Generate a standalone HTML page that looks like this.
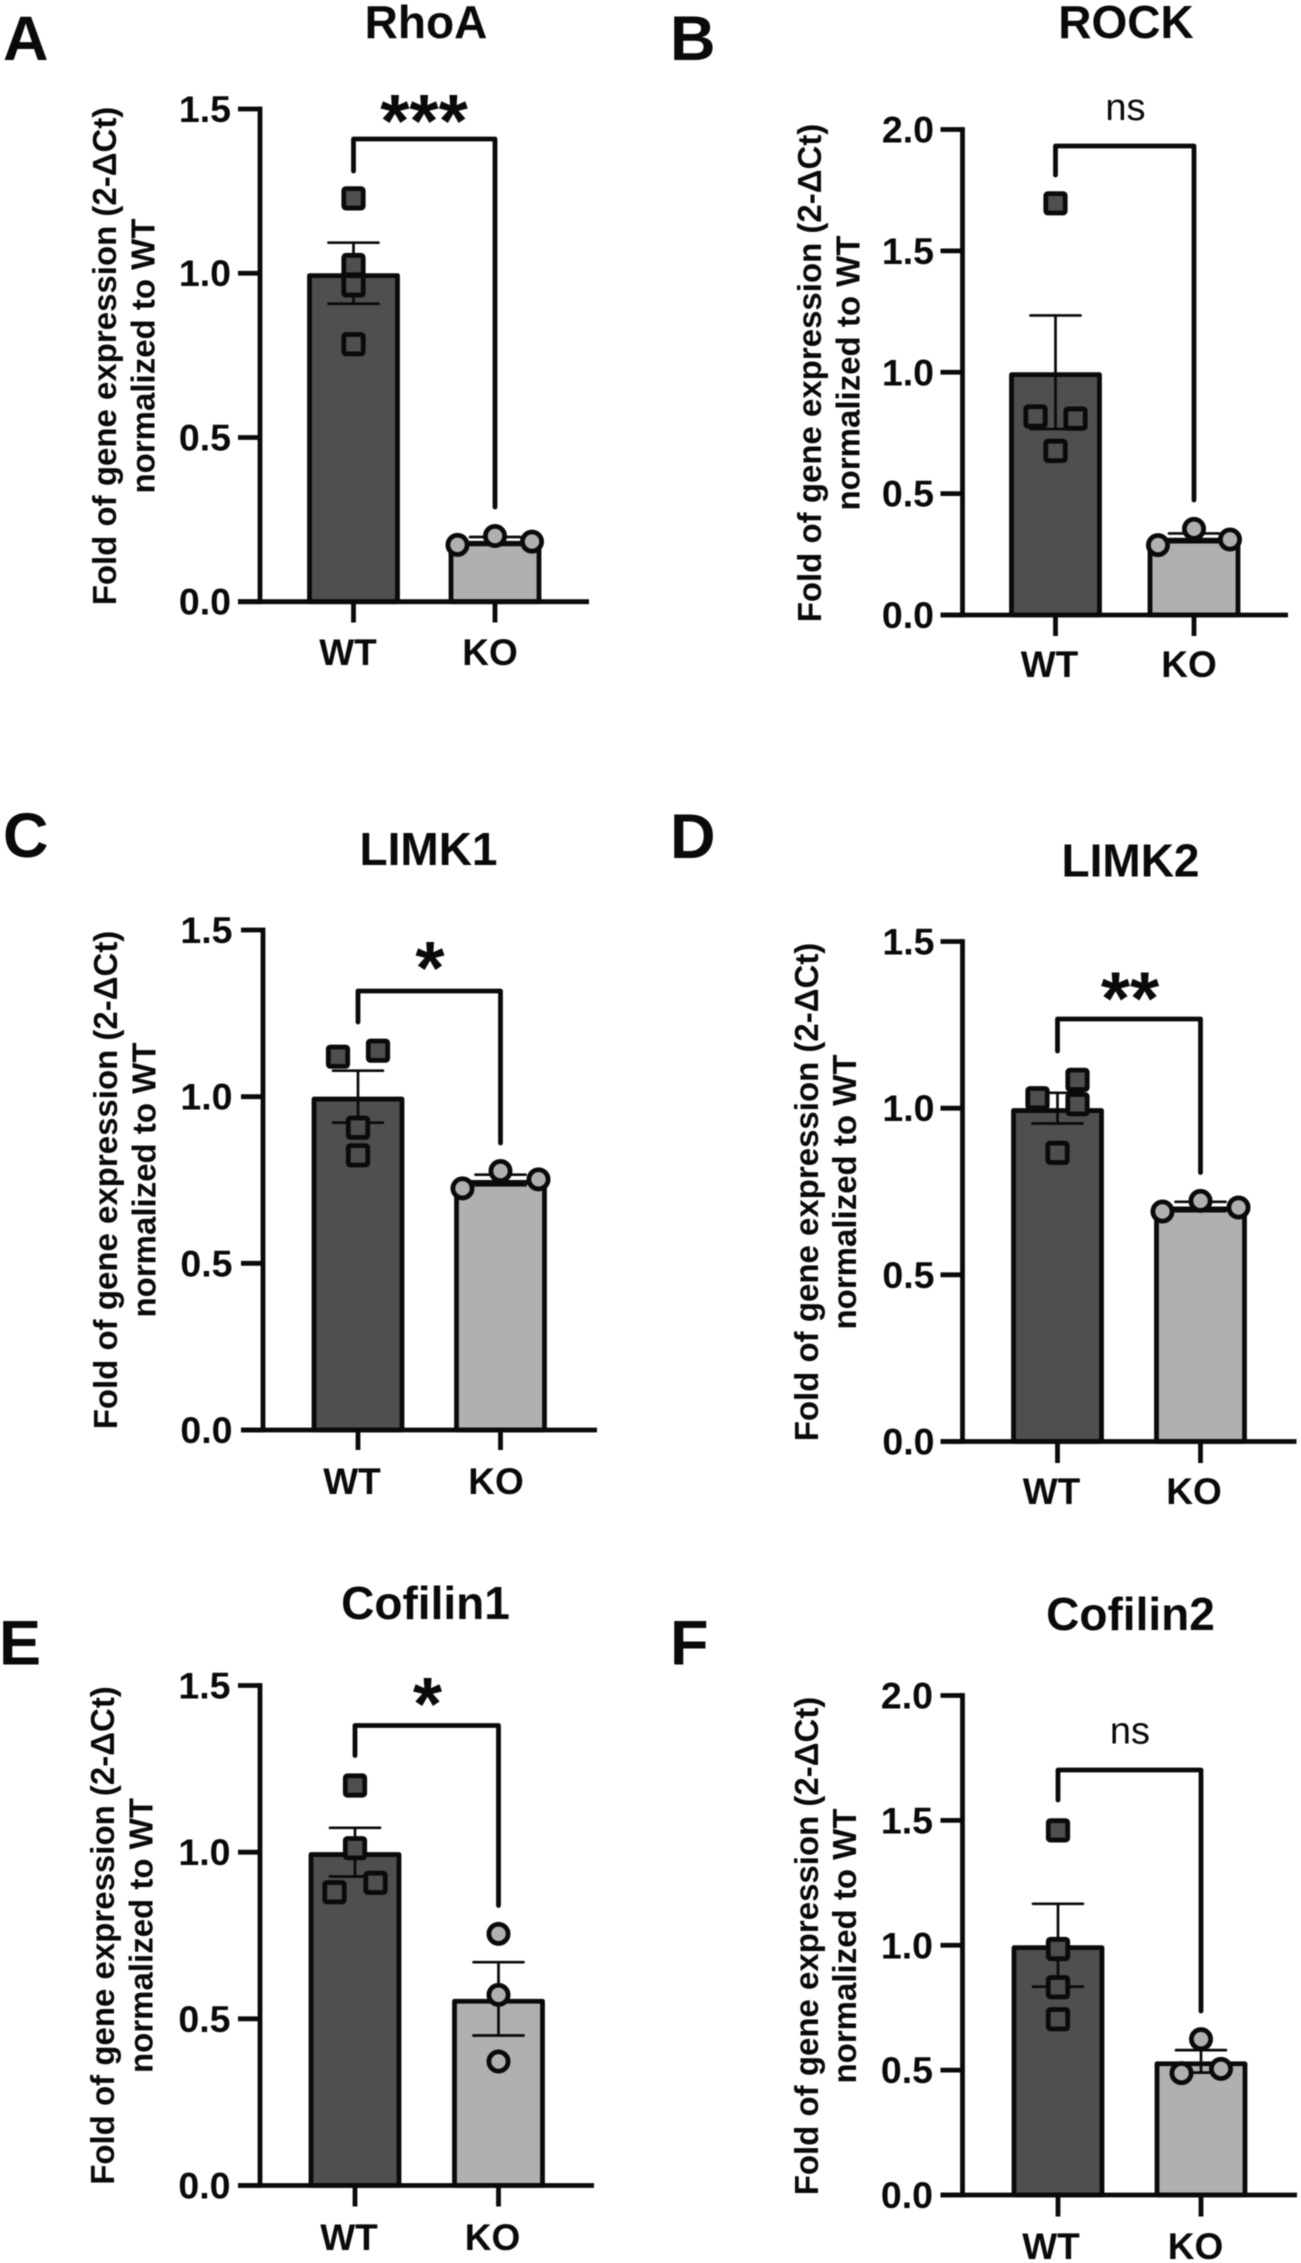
<!DOCTYPE html>
<html lang="en">
<head>
<meta charset="utf-8">
<title>Gene expression WT vs KO</title>
<style>
html,body{margin:0;padding:0;background:#fff;width:1301px;height:2263px;overflow:hidden}
svg{display:block;filter:blur(0.5px)}
text{font-family:"Liberation Sans",Arial,sans-serif;fill:#0a0a0a}
.letter{font-size:63px;font-weight:700;text-anchor:start}
.title{font-size:46px;font-weight:700;text-anchor:middle}
.yt{font-size:33px;font-weight:700;text-anchor:middle}
.tick{font-size:37.5px;font-weight:700;text-anchor:end}
.cat{font-size:37px;font-weight:700;text-anchor:middle}
.stars{font-size:75px;font-weight:700;text-anchor:middle}
.ns{font-size:38px;font-weight:400;text-anchor:middle}
</style>
</head>
<body>
<svg id="figure" xmlns="http://www.w3.org/2000/svg" width="1301" height="2263" viewBox="0 0 1301 2263">
  <rect width="1301" height="2263" fill="#fff"/>

  <g id="panel-a">
    <text class="letter" x="3" y="60">A</text>
    <text class="title" x="426" y="38">RhoA</text>
    <text class="yt" transform="translate(116 356) rotate(-90)">Fold of gene expression (2-ΔCt)</text>
    <text class="yt" transform="translate(154.5 356) rotate(-90)">normalized to WT</text>
    <text class="stars" x="424" y="147">***</text>
  </g>

  <g id="panel-b">
    <text class="letter" x="670" y="60">B</text>
    <text class="title" x="1126" y="38">ROCK</text>
    <text class="yt" transform="translate(821 373) rotate(-90)">Fold of gene expression (2-ΔCt)</text>
    <text class="yt" transform="translate(859.5 373) rotate(-90)">normalized to WT</text>
    <text class="ns" x="1125.5" y="120">ns</text>
  </g>

  <g id="panel-c">
    <text class="letter" x="3" y="857">C</text>
    <text class="title" x="428.5" y="865">LIMK1</text>
    <text class="yt" transform="translate(117 1180) rotate(-90)">Fold of gene expression (2-ΔCt)</text>
    <text class="yt" transform="translate(155.5 1180) rotate(-90)">normalized to WT</text>
    <text class="stars" x="430" y="994">*</text>
  </g>

  <g id="panel-d">
    <text class="letter" x="670" y="858">D</text>
    <text class="title" x="1130.5" y="876.5">LIMK2</text>
    <text class="yt" transform="translate(818 1192) rotate(-90)">Fold of gene expression (2-ΔCt)</text>
    <text class="yt" transform="translate(856 1192) rotate(-90)">normalized to WT</text>
    <text class="stars" x="1130" y="1024.5">**</text>
  </g>

  <g id="panel-e">
    <text class="letter" x="-1" y="1664.5">E</text>
    <text class="title" x="425.5" y="1619">Cofilin1</text>
    <text class="yt" transform="translate(114 1935.5) rotate(-90)">Fold of gene expression (2-ΔCt)</text>
    <text class="yt" transform="translate(152.5 1935.5) rotate(-90)">normalized to WT</text>
    <text class="stars" x="427.5" y="1730">*</text>
  </g>

  <g id="panel-f">
    <text class="letter" x="670" y="1664.5">F</text>
    <text class="title" x="1130.5" y="1630">Cofilin2</text>
    <text class="yt" transform="translate(818 1946) rotate(-90)">Fold of gene expression (2-ΔCt)</text>
    <text class="yt" transform="translate(856 1946) rotate(-90)">normalized to WT</text>
    <text class="ns" x="1130" y="1743.5">ns</text>
  </g>
</svg>

<script>
// ---------- chart data ----------
const categories = ['WT', 'KO'];
const ticks15 = ['0.0', '0.5', '1.0', '1.5'];
const ticks20 = ['0.0', '0.5', '1.0', '1.5', '2.0'];

const rhoaMeans = [1.0, 0.185];
const rhoaSem = [0.093, 0.012];
const rhoaWT = [1.228, 1.025, 0.963, 0.784];
const rhoaKO = [0.173, 0.2, 0.183];

const rockMeans = [1.0, 0.318];
const rockSem = [0.234, 0.018];
const rockWT = [1.696, 0.818, 0.809, 0.676];
const rockKO = [0.288, 0.355, 0.311];

const limk1Means = [1.0, 0.75];
const limk1Sem = [0.078, 0.016];
const limk1WT = [1.12, 1.138, 0.907, 0.824];
const limk1KO = [0.725, 0.777, 0.752];

const limk2Means = [1.0, 0.705];
const limk2Sem = [0.046, 0.014];
const limk2WT = [1.03, 1.085, 1.012, 0.866];
const limk2KO = [0.69, 0.722, 0.702];

const cofilin1Means = [1.0, 0.56];
const cofilin1Sem = [0.073, 0.11];
const cofilin1WT = [1.2, 1.012, 0.908, 0.88];
const cofilin1KO = [0.755, 0.572, 0.372];

const cofilin2Means = [1.0, 0.535];
const cofilin2Sem = [0.166, 0.045];
const cofilin2WT = [1.46, 0.985, 0.832, 0.704];
const cofilin2KO = [0.624, 0.488, 0.505];

// ---------- panel wiring and layout (layout is separate from the data above) ----------
const panels = [
  { id:'panel-a', ticks:ticks15, means:rhoaMeans, sem:rhoaSem, wt:rhoaWT, ko:rhoaKO,
    axisX:260, y0:601.7, yTop:109, right:589, cx:[353.5,495], labelX:[348,490], labelY:665, tickRight:231, tickBottom:622.5,
    wtJitter:[0,0,0,0], koJitter:[-37.5,0,37],
    bracket:{top:139, leftEnd:171, rightEnd:507} },
  { id:'panel-b', ticks:ticks20, means:rockMeans, sem:rockSem, wt:rockWT, ko:rockKO,
    axisX:962.5, y0:615, yTop:129.5, right:1288, cx:[1055.5,1194], labelX:[1049.5,1189], labelY:677, tickRight:934, tickBottom:636,
    wtJitter:[0,-20,20,0], koJitter:[-36,0,36],
    bracket:{top:146, leftEnd:175, rightEnd:500} },
  { id:'panel-c', ticks:ticks15, means:limk1Means, sem:limk1Sem, wt:limk1WT, ko:limk1KO,
    axisX:263, y0:1430, yTop:930, right:597, cx:[358,500.5], labelX:[352,496], labelY:1494, tickRight:232.5, tickBottom:1450,
    wtJitter:[-20,20,0,0], koJitter:[-38,0,38],
    bracket:{top:991, leftEnd:1022, rightEnd:1143} },
  { id:'panel-d', ticks:ticks15, means:limk2Means, sem:limk2Sem, wt:limk2WT, ko:limk2KO,
    axisX:962.5, y0:1441.5, yTop:941.5, right:1296.5, cx:[1057.5,1200.5], labelX:[1051.5,1194], labelY:1504, tickRight:934.5, tickBottom:1463,
    wtJitter:[-20,20,20,0], koJitter:[-38,0,38],
    bracket:{top:1019, leftEnd:1051, rightEnd:1172.5} },
  { id:'panel-e', ticks:ticks15, means:cofilin1Means, sem:cofilin1Sem, wt:cofilin1WT, ko:cofilin1KO,
    axisX:260, y0:2185.5, yTop:1685.5, right:594, cx:[355,498.5], labelX:[349,492.5], labelY:2250, tickRight:230.5, tickBottom:2206.5,
    wtJitter:[0,0,20.5,-20.5], koJitter:[0,0,0],
    bracket:{top:1725.5, leftEnd:1755.5, rightEnd:1905.5} },
  { id:'panel-f', ticks:ticks20, means:cofilin2Means, sem:cofilin2Sem, wt:cofilin2WT, ko:cofilin2KO,
    axisX:962.5, y0:2195, yTop:1695.5, right:1297, cx:[1058,1201], labelX:[1051,1195.5], labelY:2259, tickRight:933, tickBottom:2216.5,
    wtJitter:[0,0,0,0], koJitter:[0,-19.5,20],
    bracket:{top:1770, leftEnd:1800, rightEnd:2011} }
];

const INK = '#0a0a0a';
const DARK = '#4f4f4f';
const LIGHT = '#b0b0b0';
const NS = 'http://www.w3.org/2000/svg';
const STROKE = 4.8;

function make(parent, tag, attrs) {
  const el = document.createElementNS(NS, tag);
  for (const k in attrs) el.setAttribute(k, attrs[k]);
  parent.appendChild(el);
  return el;
}

function drawPanel(p) {
  const root = document.getElementById(p.id);
  const maxV = parseFloat(p.ticks[p.ticks.length - 1]);
  const yScale = v => p.y0 - (v / maxV) * (p.y0 - p.yTop);
  const halfBar = 44;
  const axisStyle = { stroke: INK, 'stroke-width': STROKE, fill: 'none' };

  // bars: outer edge of the outline sits on the value
  p.means.forEach((m, i) => {
    const top = yScale(m) + STROKE / 2;
    const bar = make(root, 'rect', {
      x: p.cx[i] - halfBar, y: top, width: halfBar * 2, height: p.y0 - top,
      fill: i === 0 ? DARK : LIGHT, stroke: INK, 'stroke-width': STROKE, 'stroke-linejoin': 'round'
    });
    
    
  });

  // error bars
  p.sem.forEach((s, i) => {
    const hi = yScale(p.means[i] + s);
    const lo = yScale(p.means[i] - s);
    const d = 'M' + (p.cx[i] - 25) + ' ' + hi + 'H' + (p.cx[i] + 25) +
              'M' + p.cx[i] + ' ' + hi + 'V' + lo +
              'M' + (p.cx[i] - 25) + ' ' + lo + 'H' + (p.cx[i] + 25);
    const err = make(root, 'path', { d: d, stroke: INK, 'stroke-width': 2.7, fill: 'none', 'stroke-linecap': 'round' });
    
    
  });

  // axes
  const yAxis = make(root, 'line', Object.assign({ x1: p.axisX, x2: p.axisX, y1: p.yTop - 2.4, y2: p.y0 + 2.4 }, axisStyle));
  
  
  const xAxis = make(root, 'line', Object.assign({ x1: p.axisX - 22, x2: p.right, y1: p.y0, y2: p.y0 }, axisStyle));
  
  

  // y ticks
  p.ticks.forEach(t => {
    const y = yScale(parseFloat(t));
    const mark = make(root, 'line', Object.assign({ x1: p.axisX - 22, x2: p.axisX, y1: y, y2: y }, axisStyle));
    
    
    const label = make(root, 'text', { class: 'tick', x: p.tickRight, y: y + 13 });
    label.textContent = t;
    
    
  });

  // x ticks and category labels
  categories.forEach((c, i) => {
    const mark = make(root, 'line', Object.assign({ x1: p.cx[i], x2: p.cx[i], y1: p.y0, y2: p.tickBottom }, axisStyle));
    
    
    const label = make(root, 'text', { class: 'cat', x: p.labelX[i], y: p.labelY });
    label.textContent = c;
    
    
  });

  // significance bracket
  const br = make(root, 'path', {
    d: 'M' + p.cx[0] + ' ' + p.bracket.leftEnd + 'V' + p.bracket.top + 'H' + p.cx[1] + 'V' + p.bracket.rightEnd,
    stroke: INK, 'stroke-width': STROKE, fill: 'none', 'stroke-linecap': 'round', 'stroke-linejoin': 'round'
  });
  
  

  // WT points (squares)
  p.wt.forEach((v, i) => {
    const pt = make(root, 'rect', {
      x: p.cx[0] + p.wtJitter[i] - 9.7, y: yScale(v) - 9.7, width: 19.4, height: 19.4, rx: 2,
      fill: DARK, stroke: INK, 'stroke-width': STROKE, 'stroke-linejoin': 'round'
    });
    
    
  });

  // KO points (circles)
  p.ko.forEach((v, i) => {
    const pt = make(root, 'circle', {
      cx: p.cx[1] + p.koJitter[i], cy: yScale(v), r: 9.6,
      fill: LIGHT, stroke: INK, 'stroke-width': STROKE
    });
    
    
  });
}

panels.forEach(drawPanel);
</script>
</body>
</html>
